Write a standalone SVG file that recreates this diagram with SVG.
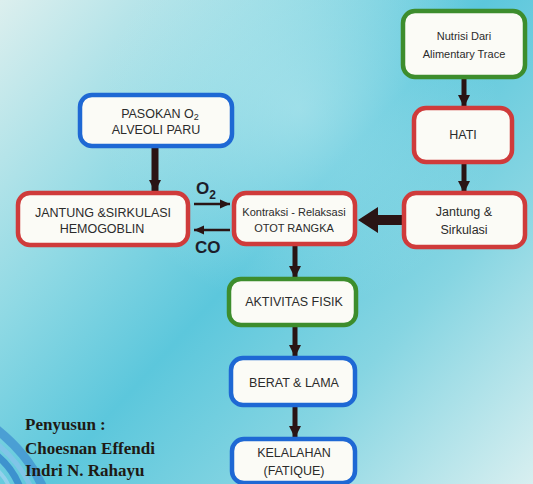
<svg xmlns="http://www.w3.org/2000/svg" width="533" height="484" viewBox="0 0 533 484">
  <defs>
    <linearGradient id="bg" x1="0" y1="0" x2="533" y2="484" gradientUnits="userSpaceOnUse">
      <stop offset="0" stop-color="#dcefee"/>
      <stop offset="0.3" stop-color="#8fd9e4"/>
      <stop offset="0.5" stop-color="#5cc7dc"/>
      <stop offset="0.72" stop-color="#86d5e2"/>
      <stop offset="1" stop-color="#d8eff0"/>
    </linearGradient>
    <radialGradient id="glow" cx="300" cy="110" r="200" gradientUnits="userSpaceOnUse">
      <stop offset="0" stop-color="#c8eef2" stop-opacity="0.5"/>
      <stop offset="1" stop-color="#c8eef2" stop-opacity="0"/>
    </radialGradient>
    <marker id="ah" markerWidth="14" markerHeight="14" refX="12" refY="7" orient="auto" markerUnits="userSpaceOnUse">
      <path d="M0,1 L12,7 L0,13 z" fill="#2a1414"/>
    </marker>
    <marker id="ahs" markerWidth="12" markerHeight="10" refX="10" refY="5" orient="auto" markerUnits="userSpaceOnUse">
      <path d="M0,0.5 L10,5 L0,9.5 z" fill="#2a1414"/>
    </marker>
    <style>
      .box { fill: #fbfbf6; stroke-width: 4.5; }
      .red { stroke: #cf3b3b; }
      .green { stroke: #3d8d2d; }
      .blue { stroke: #1e68d4; }
      .t { font-family: "Liberation Sans", Arial, sans-serif; font-size: 12.5px; fill: #2b2b2b; text-anchor: middle; }
      .ts { font-family: "Liberation Sans", Arial, sans-serif; font-size: 11px; fill: #2b2b2b; text-anchor: middle; }
      .lbl { font-family: "Liberation Sans", Arial, sans-serif; font-weight: bold; font-size: 17px; fill: #1d1d2a; }
      .auth { font-family: "Liberation Serif", "Times New Roman", serif; font-weight: bold; font-size: 17px; fill: #1f1a14; }
      .ar { stroke: #2a1414; fill: none; }
    </style>
  </defs>

  <rect x="0" y="0" width="533" height="484" fill="url(#bg)"/>
  <rect x="0" y="0" width="533" height="484" fill="url(#glow)"/>

  <!-- bottom-left swoosh -->
  <g fill="none" stroke-linecap="butt">
    <path d="M-5,428 C15,444 32,462 44,490" stroke="#3f8fd0" stroke-width="9" opacity="0.75"/>
    <path d="M-5,442 C12,456 24,470 32,490" stroke="#86c3ea" stroke-width="5" opacity="0.8"/>
    <path d="M-5,454 C8,464 16,476 21,490" stroke="#2f7fc8" stroke-width="7" opacity="0.75"/>
    <path d="M-5,468 C3,475 8,482 10,490" stroke="#9fd2ef" stroke-width="4" opacity="0.8"/>
  </g>

  <!-- connectors -->
  <g id="connectors">
    <line class="ar" x1="464" y1="77" x2="464" y2="107" stroke-width="5" marker-end="url(#ah)"/>
    <line class="ar" x1="464" y1="162" x2="464" y2="193" stroke-width="5" marker-end="url(#ah)"/>
    <line class="ar" x1="155" y1="147" x2="155" y2="192" stroke-width="7" marker-end="url(#ah)"/>
    <path d="M403,215 L378,215 L378,207 L358,220 L378,233 L378,225 L403,225 z" fill="#2a1414"/>
    <line class="ar" x1="194" y1="204" x2="230" y2="204" stroke-width="2.5" marker-end="url(#ahs)"/>
    <line class="ar" x1="230" y1="230" x2="194" y2="230" stroke-width="2.5" marker-end="url(#ahs)"/>
    <line class="ar" x1="295" y1="245" x2="295" y2="278" stroke-width="5" marker-end="url(#ah)"/>
    <line class="ar" x1="295" y1="325" x2="295" y2="357" stroke-width="5" marker-end="url(#ah)"/>
    <line class="ar" x1="295" y1="405" x2="295" y2="438" stroke-width="5" marker-end="url(#ah)"/>
    <text class="lbl" x="196" y="194">O<tspan font-size="12" dy="5">2</tspan></text>
    <text class="lbl" x="195" y="253">CO</text>
  </g>

  <g id="nutrisi">
    <rect class="box green" x="403" y="11" width="122" height="66" rx="12"/>
    <text class="ts" x="464" y="40">Nutrisi Dari</text>
    <text class="ts" x="464" y="58">Alimentary Trace</text>
  </g>

  <g id="hati">
    <rect class="box red" x="414" y="108" width="98" height="54" rx="12"/>
    <text class="t" x="463" y="139">HATI</text>
  </g>

  <g id="jantung-sirkulasi">
    <rect class="box red" x="404" y="193" width="121" height="54" rx="12"/>
    <text class="t" x="464" y="216">Jantung &amp;</text>
    <text class="t" x="464" y="234">Sirkulasi</text>
  </g>

  <g id="pasokan">
    <rect class="box blue" x="80" y="95" width="152" height="51" rx="12"/>
    <text class="t" x="160" y="118">PASOKAN O<tspan font-size="9" dy="2">2</tspan></text>
    <text class="t" x="156" y="134">ALVEOLI PARU</text>
  </g>

  <g id="jantung-hemoglobin">
    <rect class="box red" x="18" y="193" width="170" height="52" rx="12"/>
    <text class="t" x="103" y="217">JANTUNG &amp;SIRKULASI</text>
    <text class="t" x="102" y="233">HEMOGOBLIN</text>
  </g>

  <g id="kontraksi">
    <rect class="box red" x="234" y="193" width="121" height="51" rx="12"/>
    <text class="ts" x="294" y="216">Kontraksi - Relaksasi</text>
    <text class="ts" x="294" y="232">OTOT RANGKA</text>
  </g>

  <g id="aktivitas">
    <rect class="box green" x="229" y="279" width="127" height="46" rx="12"/>
    <text class="t" x="294" y="306">AKTIVITAS FISIK</text>
  </g>

  <g id="berat">
    <rect class="box blue" x="231" y="358" width="124" height="47" rx="12"/>
    <text class="t" x="294" y="387">BERAT &amp; LAMA</text>
  </g>

  <g id="kelelahan">
    <rect class="box blue" x="232" y="439" width="123" height="44" rx="12"/>
    <text class="t" x="294" y="457">KELALAHAN</text>
    <text class="t" x="294" y="475">(FATIQUE)</text>
  </g>

  <g id="penyusun">
    <text class="auth" x="25" y="430">Penyusun :</text>
    <text class="auth" x="25" y="454">Choesnan Effendi</text>
    <text class="auth" x="25" y="476">Indri N. Rahayu</text>
  </g>
</svg>
